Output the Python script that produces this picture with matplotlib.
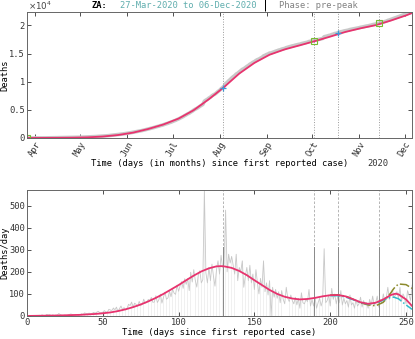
import numpy as np
import matplotlib
matplotlib.use("Agg")
import matplotlib.pyplot as plt

plt.rcParams['font.family'] = ['DejaVu Sans Mono']

# daily reported deaths, ZA, 27-Mar-2020 .. 06-Dec-2020 (day 0 .. 254)
daily = [
    1, 0, 0, 1, 1, 0, 2, 0, 3, 2,
    5, 2, 1, 7, 5, 6, 2, 5, 2, 4,
    4, 11, 6, 3, 2, 4, 1, 4, 7, 9,
    6, 4, 7, 5, 3,
    5, 10, 7, 14, 11, 10, 13, 9, 12, 16,
    13, 17, 21, 15, 14, 17, 24, 19, 17, 30,
    27, 25, 36, 28, 40, 22, 33, 45, 29, 38, 27,
    35, 53, 47, 63, 41, 58, 52, 44, 66, 48,
    52, 76, 58, 61, 75, 70, 84, 62, 63, 92,
    61, 74, 99, 58, 84, 108, 76, 82, 113, 87,
    121, 104, 98, 140, 112, 137, 156, 125, 169, 143,
    170, 115, 198, 154, 210, 162, 131, 188, 205, 150,
    165, 572, 196, 150, 220, 160, 235, 180, 135, 210, 250,
    190, 275, 220, 235, 480, 200, 280, 240, 270, 230,
    190, 280, 160, 220, 200, 250, 130, 180, 220, 160,
    230, 150, 190, 120, 210, 150, 100, 170, 130, 250, 110,
    150, 95, 160, 0, 130, 85, 120, 80, 110, 60,
    115, 75, 55, 130, 80, 65, 95, 70, 55, 85,
    50, 80, 35, 105, 60, 55, 75, 65, 120, 45,
    75, 45, 85, 35, 60, 80, 45, 70, 305, 60,
    70, 95, 45, 125, 75, 100, 55, 90, 60, 115,
    50, 80, 55, 70, 40, 95, 50, 60, 35, 75, 45,
    55, 85, 40, 70, 50, 60, 35, 75, 50, 90,
    50, 60, 90, 40, 75, 55, 100, 65, 85, 130,
    75, 100, 120, 85, 95, 110, 80, 130, 65, 100,
    85, 55, 115, 95, 70, 140,
]
days = np.arange(len(daily))
cum = np.cumsum(daily)

# fitted cumulative
fit_cum_days = [0, 10, 20, 30, 40, 50, 60, 70, 80, 90, 100, 110, 120, 130, 140,
                150, 160, 170, 180, 190, 200, 210, 220, 230, 240, 250, 254]
fit_cum = [0, 8, 22, 50, 110, 260, 520, 950, 1600, 2400, 3450, 4950, 6900, 9050, 11450,
           13350, 14800, 15750, 16480, 17230, 18020, 18850, 19500, 20060, 20880, 21790, 22222]

# fitted daily curves
fit_days = [0, 5, 10, 15, 20, 25, 30, 35, 40, 45, 50, 55, 60, 65, 70, 75, 80, 85, 90, 95,
            100, 105, 110, 115, 120, 125, 128, 130, 135, 140, 145, 150, 155, 160, 165, 170,
            175, 180, 185, 190, 195, 200, 205, 210, 215, 220, 225, 230, 235, 240, 243, 245,
            250, 254]
fit_main = [0, 0.5, 1, 1.5, 2, 3, 4, 5, 7, 9, 12, 16, 22, 30, 40, 52, 66, 82, 100, 120,
            140, 162, 183, 202, 216, 225, 226, 225, 218, 204, 185, 162, 140, 118, 100, 87,
            79, 75, 77, 82, 89, 94, 95, 89, 76, 62, 55, 60, 75, 95, 101, 98,
            75, 45]
alt_days = [200, 205, 210, 215, 220, 225, 230, 235, 240, 242, 245, 250, 254]
fit_cyan = [92, 92, 86, 74, 61, 54, 58, 72, 85, 85, 78, 50, 30]
fit_olive = [95, 96, 90, 76, 60, 50, 46, 62, 105, 125, 145, 142, 125]

events = [129, 189, 205, 232]
month_days = [5, 35, 66, 96, 127, 158, 188, 219, 249]
month_names = ['Apr', 'May', 'Jun', 'Jul', 'Aug', 'Sep', 'Oct', 'Nov', 'Dec']

pink = '#e8336e'
cyan = '#2fbccc'
olive = '#8c8a2c'
green = '#77bb33'
spine = '#666666'
fs = 6.3

fig = plt.figure(figsize=(4.15, 3.39), dpi=100)
ax1 = fig.add_axes([0.065, 0.593, 0.928, 0.372])
ax2 = fig.add_axes([0.065, 0.068, 0.928, 0.372])

# ---- top: cumulative
ax1.plot(days, cum, color='#c8c8c8', lw=2.6, solid_capstyle='round')
for d in events:
    ax1.axvline(d, color='#999999', ls=':', lw=0.7)
ax1.plot(fit_cum_days, fit_cum, color=pink, lw=1.3)
ax1.plot([0, 189, 232], [cum[0], cum[189], cum[232]], 's', mfc='none', mec=green, ms=4, mew=0.8)
ax1.plot([129, 205], [cum[129], cum[205]], '+', color='#3a9ad9', ms=5, mew=0.9)
ax1.set_xlim(0, 254)
ax1.set_ylim(0, cum[-1])
ax1.set_xticks(month_days)
ax1.set_xticklabels(month_names, rotation=60, ha='right', va='top', rotation_mode='anchor')
ax1.set_yticks([0, 5000, 10000, 15000, 20000])
ax1.set_yticklabels(['0', '0.5', '1', '1.5', '2'])
ax1.set_ylabel('Deaths', fontsize=fs)
ax1.yaxis.set_label_coords(-0.045, 0.5)
ax1.set_xlabel('Time (days (in months) since first reported case)', fontsize=fs)
ax1.xaxis.set_label_coords(0.5, -0.17)
fig.text(28 / 415, 1 - 6 / 339, r'$\times10^4$', fontsize=fs,
         color='#444444', va='center', ha='left', family='DejaVu Sans')
fig.text(378 / 415, 1 - 163 / 339, '2020', fontsize=fs, ha='center', va='center', color='#333333')

# ---- bottom: daily
ax2.bar(days, daily, width=0.3, color='#f0f0f0', edgecolor='none')
ax2.plot(days, daily, color='#c8c8c8', lw=0.6)
for d in events:
    ax2.axvline(d, color='#aaaaaa', ls='--', lw=0.6, dashes=(3, 2))
    ax2.axvline(d, ymin=0, ymax=0.55, color='#8a8a8a', lw=0.7)
ax2.plot(alt_days, fit_olive, color=olive, ls='-.', lw=1.1)
ax2.plot(alt_days, fit_cyan, color=cyan, ls='-.', lw=1.1)
ax2.plot(fit_days, fit_main, color=pink, lw=1.3)
ax2.set_xlim(0, 254)
ax2.set_ylim(0, max(daily))
ax2.set_xticks([0, 50, 100, 150, 200, 250])
ax2.set_yticks([0, 100, 200, 300, 400, 500])
ax2.set_ylabel('Deaths/day', fontsize=fs)
ax2.yaxis.set_label_coords(-0.045, 0.5)
ax2.set_xlabel('Time (days since first reported case)', fontsize=fs, labelpad=1)

for ax in (ax1, ax2):
    ax.tick_params(direction='in', top=True, right=True, length=3, width=0.6,
                   labelsize=fs, colors='#333333', pad=1.5)
    for s in ax.spines.values():
        s.set_color(spine)
        s.set_linewidth(0.7)

# title line
ty = 1 - 5 / 339
fig.text(92 / 415, ty, 'ZA:', fontsize=fs, fontweight='bold', va='center', ha='left', color='black')
fig.text(120 / 415, ty, '27-Mar-2020 to 06-Dec-2020', fontsize=fs, va='center', ha='left', color='#5fadad')
fig.text(265 / 415, ty, '|', fontsize=fs + 2, va='center', ha='center', color='black')
fig.text(279 / 415, ty, 'Phase: pre-peak', fontsize=fs, va='center', ha='left', color='#808080')

fig.savefig('out.png', dpi=100)
